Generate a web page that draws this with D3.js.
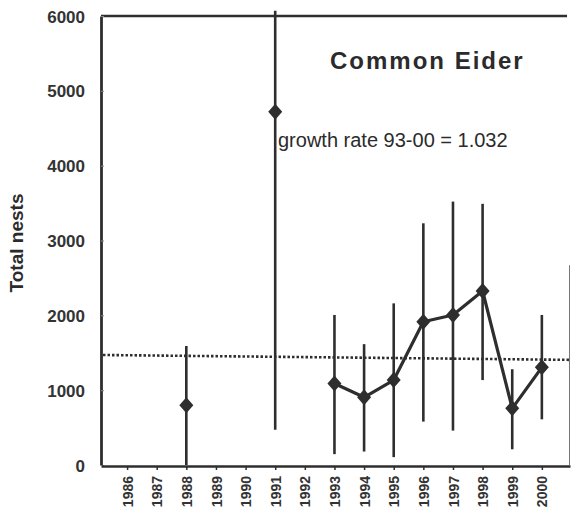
<!DOCTYPE html>
<html>
<head>
<meta charset="utf-8">
<script src="https://cdn.jsdelivr.net/npm/d3@7"></script>
<style>
  body { margin: 0; background: #fff; }
  text { font-family: "Liberation Sans", Arial, sans-serif; fill: #2b2b2b; }
</style>
</head>
<body>
<figure id="eider" style="margin:0"></figure>
<script>
// years shown on the x axis
const years = [1986, 1987, 1988, 1989, 1990, 1991, 1992, 1993, 1994, 1995, 1996, 1997, 1998, 1999, 2000];
// surveyed years and nest counts with their error ranges
const surveyYears = [1988, 1991, 1993, 1994, 1995, 1996, 1997, 1998, 1999, 2000];
const nests = [800, 4720, 1090, 905, 1135, 1915, 2005, 2325, 757, 1305];
const upper = [1590, 6070, 2005, 1615, 2160, 3230, 3520, 3490, 1280, 2005];
const lower = [0, 470, 145, 180, 105, 580, 460, 1135, 210, 610];
// years joined by the trend line
const trendYears = [1993, 1994, 1995, 1996, 1997, 1998, 1999, 2000];
// dotted reference level (left end, right end)
const refLevel = [1470, 1405];
const yTicks = [0, 1000, 2000, 3000, 4000, 5000, 6000];

const W = 571, H = 512;
const ink = "#2e2e2e";

const svg = d3.select("figure#eider")
  .append("svg")
  .attr("width", W)
  .attr("height", H);

const x = d3.scaleLinear()
  .domain([1985.12, 2000.95])
  .range([101, 570]);

const y = d3.scaleLinear()
  .domain([0, 6000])
  .range([465, 16]);

// top border and faint right border
svg.append("line")
  .attr("x1", x(1985.12)).attr("x2", 567)
  .attr("y1", y(6000)).attr("y2", y(6000))
  .attr("stroke", ink).attr("stroke-width", 2.5);
svg.append("line")
  .attr("x1", 569.5).attr("x2", 569.5)
  .attr("y1", y(2670)).attr("y2", y(0))
  .attr("stroke", "#777").attr("stroke-width", 1);

// Y axis
const yAxis = svg.append("g")
  .attr("transform", "translate(" + x(1985.12) + ",0)")
  .call(d3.axisLeft(y).tickValues(yTicks).tickFormat(d3.format("d")).tickSizeInner(-3).tickSizeOuter(0).tickPadding(16));
yAxis.select(".domain").attr("stroke", ink).attr("stroke-width", 2.8);
yAxis.selectAll(".tick line").attr("stroke", "#888");
yAxis.selectAll(".tick text")
  .style("font-size", "17px")
  .style("font-weight", "bold")
  .style("fill", "#333")
  .attr("dy", "0.36em");

// X axis
const xAxis = svg.append("g")
  .attr("transform", "translate(0," + (y(0) + 1) + ")")
  .call(d3.axisBottom(x).tickValues(years).tickFormat(d3.format("d")).tickSizeInner(4).tickSizeOuter(0));
xAxis.select(".domain").attr("stroke", ink).attr("stroke-width", 2.5);
xAxis.selectAll(".tick line").attr("stroke", ink).attr("stroke-width", 1.5);
xAxis.selectAll(".tick text")
  .style("font-size", "14px")
  .style("font-weight", "bold")
  .style("fill", "#333")
  .attr("text-anchor", "end")
  .attr("transform", "rotate(-90)")
  .attr("x", -10)
  .attr("y", 0)
  .attr("dy", "0.36em");

// Y label
svg.append("text")
  .attr("transform", "translate(23,243) rotate(-90)")
  .attr("text-anchor", "middle")
  .style("font-size", "19px")
  .style("font-weight", "bold")
  .text("Total nests");

// dotted reference line
svg.append("line")
  .attr("x1", x(1985.12) + 2).attr("x2", 570)
  .attr("y1", y(refLevel[0])).attr("y2", y(refLevel[1]))
  .attr("stroke", ink)
  .attr("stroke-width", 2.6)
  .attr("stroke-dasharray", "2.5,2");

// error bars
const pts = surveyYears.map((yr, i) => ({ yr: yr, v: nests[i], hi: upper[i], lo: lower[i] }));
svg.append("g").selectAll("line")
  .data(pts)
  .enter()
  .append("line")
  .attr("x1", d => x(d.yr)).attr("x2", d => x(d.yr))
  .attr("y1", d => y(d.hi)).attr("y2", d => y(d.lo))
  .attr("stroke", ink)
  .attr("stroke-width", 2.6);

// trend line
const trend = pts.filter(d => trendYears.includes(d.yr));
svg.append("path")
  .datum(trend)
  .attr("fill", "none")
  .attr("stroke", ink)
  .attr("stroke-width", 3.2)
  .attr("stroke-linejoin", "round")
  .attr("d", d3.line().x(d => x(d.yr)).y(d => y(d.v)));

// diamonds
svg.append("g").selectAll("path")
  .data(pts)
  .enter()
  .append("path")
  .attr("transform", d => "translate(" + x(d.yr) + "," + y(d.v) + ")")
  .attr("d", "M0,-8L7,0L0,8L-7,0Z")
  .attr("fill", ink);

// title and note
svg.append("text")
  .attr("x", 330).attr("y", 69)
  .style("font-size", "24px")
  .style("font-weight", "bold")
  .style("letter-spacing", "2px")
  .text("Common Eider");

svg.append("text")
  .attr("x", 278).attr("y", 147)
  .style("font-size", "20px")
  .text("growth rate 93-00 = 1.032");
</script>
</body>
</html>
